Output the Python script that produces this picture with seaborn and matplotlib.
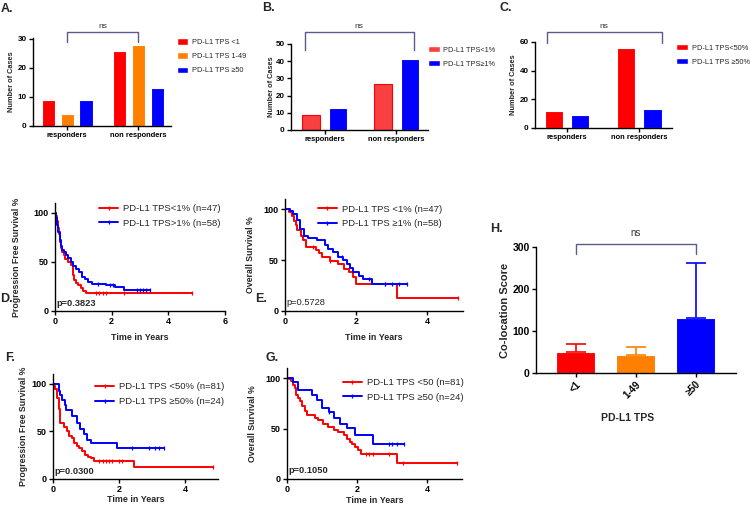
import numpy as np
import pandas as pd
import matplotlib
matplotlib.use("Agg")
import matplotlib.pyplot as plt
from matplotlib.lines import Line2D
from matplotlib.patches import Patch
import seaborn as sns

sns.set_theme(style="ticks")
plt.rcParams['font.family'] = ['Liberation Sans', 'DejaVu Sans']
plt.rcParams['axes.labelweight'] = 'bold'

RED = "#FF0000"
ORANGE = "#FF8000"
BLUE = "#0000FF"
BRACKET = "#5b5b8f"

# ---- bar panels A, B, C ----
groups = ["responders", "non responders"]

tps_a = ["PD-L1 TPS <1", "PD-L1 TPS 1-49", "PD-L1 TPS \u226550"]
a_lt1 = [9, 26]
a_1_49 = [4, 28]
a_ge50 = [9, 13]

tps_b = ["PD-L1 TPS<1%", "PD-L1 TPS\u22651%"]
b_lt1 = [9, 27]
b_ge1 = [13, 41]

tps_c = ["PD-L1 TPS<50%", "PD-L1 TPS \u226550%"]
c_lt50 = [12, 56]
c_ge50 = [9, 13]

# ---- H: co-location score ----
h_cats = ["<1", "1-49", "\u226550"]
h_mean = [50, 44, 132]
h_err = [20, 18, 130]

# ---- Kaplan-Meier curves (step times / survival %) ----
d_red_t = [0, 0.03, 0.06, 0.1, 0.13, 0.16, 0.2, 0.24, 0.3, 0.36, 0.45, 0.55, 0.62, 0.68, 0.75, 0.82, 0.9, 1.0, 1.08]
d_red_s = [100, 97, 92, 85, 78, 70, 64, 60, 57, 53, 50, 47, 37, 32, 29, 26, 23, 20, 18]
d_red_end = 4.85
d_red_cens = [1.45, 1.55, 1.7, 1.8, 2.45, 4.85]
d_blue_t = [0, 0.04, 0.08, 0.12, 0.16, 0.2, 0.25, 0.3, 0.38, 0.45, 0.55, 0.65, 0.75, 0.85, 0.95, 1.05, 1.15, 1.3, 1.8, 2.1, 2.42]
d_blue_s = [100, 95, 88, 80, 72, 66, 62, 60, 57, 54, 50, 46, 43, 40, 35, 33, 30, 27, 26, 24, 21]
d_blue_end = 3.35
d_blue_cens = [1.5, 1.95, 2.05, 2.9, 3.0, 3.1, 3.2, 3.35]

e_red_t = [0, 0.1, 0.2, 0.25, 0.3, 0.35, 0.45, 0.5, 0.6, 0.88, 0.95, 1.05, 1.25, 1.5, 1.65, 1.8, 1.9, 2.0, 3.15]
e_red_s = [100, 97, 93, 88, 84, 80, 74, 70, 63, 60, 57, 53, 49, 46, 41, 38, 33, 27, 13]
e_red_end = 4.85
e_red_cens = [0.8, 1.25, 2.8, 4.85]
e_blue_t = [0, 0.15, 0.23, 0.33, 0.42, 0.52, 0.66, 0.9, 1.13, 1.22, 1.36, 1.5, 1.64, 1.74, 1.83, 1.92, 2.07, 2.2, 2.44]
e_blue_s = [100, 98, 95, 89, 81, 74, 72, 70, 65, 61, 58, 53, 50, 46, 42, 38, 34, 31, 27]
e_blue_end = 3.42
e_blue_cens = [1.6, 2.35, 2.8, 3.0, 3.2, 3.42]

f_red_t = [0, 0.04, 0.07, 0.12, 0.17, 0.22, 0.32, 0.43, 0.48, 0.58, 0.65, 0.72, 0.78, 0.88, 0.98, 1.06, 1.14, 1.24, 2.46]
f_red_s = [100, 97, 94, 85, 73, 59, 55, 50, 45, 43, 38, 35, 32, 29, 25, 23, 22, 19, 13]
f_red_end = 4.85
f_red_cens = [1.4, 1.5, 1.6, 1.7, 1.8, 2.0, 2.1, 4.85]
f_blue_t = [0, 0.17, 0.22, 0.27, 0.35, 0.38, 0.58, 0.73, 0.83, 0.93, 1.03, 1.14, 1.95]
f_blue_s = [100, 92, 88, 83, 78, 72, 66, 59, 52, 47, 41, 38, 33]
f_blue_end = 3.35
f_blue_cens = [2.4, 2.9, 3.1, 3.2, 3.35]

g_red_t = [0, 0.05, 0.12, 0.17, 0.22, 0.27, 0.32, 0.37, 0.44, 0.51, 0.58, 0.8, 0.89, 1.04, 1.18, 1.33, 1.47, 1.62, 1.71, 1.79, 1.86, 1.95, 2.02, 2.1, 3.15]
g_red_s = [100, 99, 97, 93, 90, 83, 80, 77, 72, 67, 63, 60, 58, 55, 52, 49, 47, 44, 40, 37, 35, 32, 29, 25, 16]
g_red_end = 4.85
g_red_cens = [2.25, 2.35, 2.45, 2.9, 3.3, 4.85]
g_blue_t = [0, 0.17, 0.32, 0.7, 0.85, 0.99, 1.2, 1.33, 1.52, 1.71, 1.95, 2.45]
g_blue_s = [100, 96, 88, 83, 78, 70, 66, 60, 55, 51, 44, 35]
g_blue_end = 3.35
g_blue_cens = [1.2, 2.9, 3.0, 3.15, 3.35]

W, H = 750, 505
fig = plt.figure(figsize=(W / 100, H / 100), dpi=100)


def px_axes(x0, y0, x1, y1):
    return fig.add_axes([x0 / W, 1 - y1 / H, (x1 - x0) / W, (y1 - y0) / H])


def bold_ticks(ax, size):
    ax.tick_params(labelsize=size, length=3, width=1, pad=1.5, colors="black")
    for lbl in ax.get_xticklabels() + ax.get_yticklabels():
        lbl.set_fontweight("bold")
    for sp in ax.spines.values():
        sp.set_linewidth(1)
        sp.set_color("black")


def bracket(ax, x0, x1, ylo, yhi, ytext, color=BRACKET, size=6):
    ax.plot([x0, x0, x1, x1], [ylo, yhi, yhi, ylo], color=color, lw=1, clip_on=False)
    ax.text((x0 + x1) / 2, ytext, "ns", ha="center", va="center", fontsize=size, color="#333333")


def bar_panel(ax, labels, series, colors, width, gap, ymax, yticks, leg_anchor):
    rows = []
    for lab, vals in zip(labels, series):
        for g, v in zip(groups, vals):
            rows.append({"group": g, "tps": lab, "n": v})
    df = pd.DataFrame(rows)
    sns.barplot(data=df, x="group", y="n", hue="tps", palette=colors, width=width, gap=gap,
                saturation=1, legend=False, ax=ax, linewidth=0.8, edgecolor="white")
    ax.set_ylim(0, ymax)
    ax.set_yticks(yticks)
    ax.set_xlabel("")
    ax.set_ylabel("Number of Cases", fontsize=5.3)
    sns.despine(ax=ax)
    bold_ticks(ax, 5.8)
    for lbl in ax.get_xticklabels():
        lbl.set_fontsize(5.4)
    handles = [Patch(facecolor=c, edgecolor="white", label=l) for c, l in zip(colors, labels)]
    ax.legend(handles=handles, loc="upper left", bbox_to_anchor=leg_anchor, frameon=False,
              fontsize=5.3, handlelength=1.6, handleheight=1.0, handletextpad=0.5,
              labelspacing=0.85, borderaxespad=0, borderpad=0)


# A
axA = px_axes(33, 37.5, 171, 126)
bar_panel(axA, tps_a, [a_lt1, a_1_49, a_ge50], [RED, ORANGE, BLUE], 0.8, 0.3, 30.5, [0, 10, 20, 30], (1.04, 0.99))
axA.set_xlim(-0.48, 1.46)
axA.yaxis.set_label_coords(-0.13, 0.5)
bracket(axA, 0, 1, 29, 32.4, 34.4)

# B
axB = px_axes(291, 44, 428, 130)
bar_panel(axB, tps_b, [b_lt1, b_ge1], ["#F84040", BLUE], 0.75, 0.33, 50, [0, 10, 20, 30, 40, 50], (1.0, 0.98))
axB.set_xlim(-0.47, 1.44)
axB.yaxis.set_label_coords(-0.12, 0.5)
for p in axB.patches[:2]:
    p.set_edgecolor(RED)
bracket(axB, -0.28, 1.24, 46.5, 57, 60)

# C
axC = px_axes(535, 42, 672, 128)
bar_panel(axC, tps_c, [c_lt50, c_ge50], [RED, BLUE], 0.72, 0.3, 60, [0, 20, 40, 60], (1.03, 0.98))
axC.set_xlim(-0.44, 1.45)
axC.yaxis.set_label_coords(-0.13, 0.5)
bracket(axC, -0.28, 1.31, 59, 67, 70.5)


# ---- KM panels ----
def km_panel(ax, curves, xmax, ylabel, ptext, pbold, leg_anchor, ylab_x, xlab_y):
    frames = []
    for t, s, end, cens, lab, col in curves:
        frames.append(pd.DataFrame({"time": list(t) + [end], "surv": list(s) + [s[-1]], "group": lab}))
    df = pd.concat(frames, ignore_index=True)
    sns.lineplot(data=df, x="time", y="surv", hue="group", palette=[c[5] for c in curves],
                 drawstyle="steps-post", estimator=None, sort=False, lw=1.4, legend=False, ax=ax)
    for t, s, end, cens, lab, col in curves:
        idx = np.searchsorted(t, cens, side="right") - 1
        ys = [s[i] for i in idx]
        ax.plot(cens, ys, ls="none", marker="|", ms=3.5, mew=0.9, color=col)
    ax.set_xlim(0, xmax)
    ax.set_ylim(0, 110)
    ax.set_yticks([0, 50, 100])
    ax.set_xticks(list(range(0, xmax + 1, 2)))
    ax.set_xlabel("Time in Years", fontsize=6.4)
    ax.set_ylabel(ylabel, fontsize=6.3)
    ax.yaxis.set_label_coords(ylab_x, 0.5)
    ax.xaxis.set_label_coords(0.5, xlab_y)
    sns.despine(ax=ax)
    bold_ticks(ax, 6.5)
    ax.text(0.05, 8, ptext, fontsize=6.7, fontweight="bold" if pbold else "normal", va="center")
    handles = [Line2D([0], [0], color=c[5], lw=1.4, marker="|", ms=3, label=c[4]) for c in curves]
    ax.legend(handles=handles, loc="upper left", bbox_to_anchor=leg_anchor, frameon=False,
              fontsize=6.8, handlelength=2.0, handletextpad=0.5, labelspacing=0.6,
              borderaxespad=0, borderpad=0)


axD = px_axes(55, 203, 225, 311)
km_panel(axD, [(d_red_t, d_red_s, d_red_end, d_red_cens, "PD-L1 TPS<1% (n=47)", RED),
               (d_blue_t, d_blue_s, d_blue_end, d_blue_cens, "PD-L1 TPS>1% (n=58)", BLUE)],
         6, "Progression Free Survival %", "p=0.3823", True, (0.26, 0.99), -0.2, -0.2)

axE = px_axes(285, 199, 463, 311)
km_panel(axE, [(e_red_t, e_red_s, e_red_end, e_red_cens, "PD-L1 TPS <1% (n=47)", RED),
               (e_blue_t, e_blue_s, e_blue_end, e_blue_cens, "PD-L1 TPS \u22651% (n=58)", BLUE)],
         5, "Overall Survival %", "p=0.5728", False, (0.185, 0.95), -0.17, -0.2)

axF = px_axes(53, 374, 218, 479)
km_panel(axF, [(f_red_t, f_red_s, f_red_end, f_red_cens, "PD-L1 TPS <50% (n=81)", RED),
               (f_blue_t, f_blue_s, f_blue_end, f_blue_cens, "PD-L1 TPS \u226550% (n=24)", BLUE)],
         5, "Progression Free Survival %", "p=0.0300", True, (0.255, 0.92), -0.15, -0.15)

axG = px_axes(287, 368, 462, 479)
km_panel(axG, [(g_red_t, g_red_s, g_red_end, g_red_cens, "PD-L1 TPS <50 (n=81)", RED),
               (g_blue_t, g_blue_s, g_blue_end, g_blue_cens, "PD-L1 TPS \u226550 (n=24)", BLUE)],
         5, "Overall Survival %", "p=0.1050", True, (0.32, 0.91), -0.17, -0.15)

# ---- H ----
axH = px_axes(536, 247, 736, 373)
h_colors = [RED, ORANGE, BLUE]
sns.barplot(x=h_cats, y=h_mean, hue=h_cats, palette=h_colors, width=0.65, saturation=1,
            legend=False, ax=axH, linewidth=0.8, edgecolor="white")
for i, (m, e) in enumerate(zip(h_mean, h_err)):
    axH.errorbar(i, m, yerr=[[0], [e]], fmt="none", ecolor=h_colors[i], elinewidth=1.2,
                 capsize=7, capthick=1.2)
axH.set_xlim(-0.66, 2.67)
axH.set_ylim(0, 300)
axH.set_yticks([0, 100, 200, 300])
axH.set_xlabel("PD-L1 TPS", fontsize=7.5)
axH.set_ylabel("Co-location Score", fontsize=8)
axH.yaxis.set_label_coords(-0.13, 0.5)
axH.xaxis.set_label_coords(0.46, -0.32)
sns.despine(ax=axH)
bold_ticks(axH, 7.5)
for lbl in axH.get_xticklabels():
    lbl.set_rotation(45)
    lbl.set_ha("right")
    lbl.set_rotation_mode("anchor")
    lbl.set_fontsize(7)
bracket(axH, 0, 2, 283, 307, 333, size=7)

# panel letters
for letter, x, y in [("A.", 1, 9), ("B.", 262, 8), ("C.", 500, 8), ("D.", 0, 299), ("E.", 255, 299),
                     ("F.", 5, 358), ("G.", 265, 358), ("H.", 490, 229)]:
    fig.text(x / W, 1 - y / H, letter, fontsize=9, fontweight="bold", va="center", ha="left")

fig.savefig("out.png", dpi=100, facecolor="white")
